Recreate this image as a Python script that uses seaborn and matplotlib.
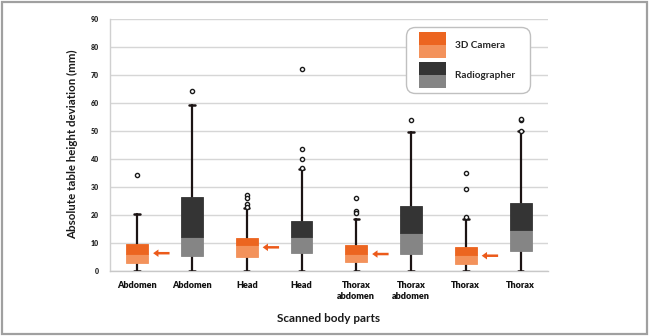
import numpy as np
import pandas as pd
import matplotlib
matplotlib.use("Agg")
import matplotlib.pyplot as plt
from matplotlib.patches import Rectangle, Patch
from matplotlib.legend_handler import HandlerBase
import seaborn as sns

# ---------------- data ----------------
labels = ["Abdomen", "Abdomen", "Head", "Head", "Thorax\nabdomen", "Thorax\nabdomen", "Thorax", "Thorax"]
groups = ["3D Camera", "Radiographer"] * 4
q1 = [2.8, 5.4, 5.0, 6.2, 3.2, 5.9, 2.3, 7.1]
med = [6.0, 12.0, 9.4, 12.0, 6.0, 13.4, 5.6, 14.6]
q3 = [9.6, 26.5, 11.6, 17.9, 9.2, 23.2, 8.4, 24.1]
whislo = [0, 0, 0, 0, 0, 0, 0, 0]
whishi = [20.3, 59.2, 22.3, 36.4, 18.5, 49.8, 18.5, 50.1]
fliers = [
    [34.2],
    [64.4],
    [27.1, 26.2, 23.8, 22.8],
    [36.6, 40.1, 43.6, 72.1],
    [26.1, 21.4, 20.5],
    [54.0],
    [19.1, 29.1, 35.1],
    [50.1, 53.8, 54.2],
]
arrow_y = [6.3, 8.4, 6.0, 5.4]  # arrows beside the 3D camera boxes

# ---------------- style ----------------
colors = {
    "3D Camera": ("#EC6520", "#F3925B"),      # (upper half, lower half)
    "Radiographer": ("#343434", "#858585"),
}
sns.set_style("white")
plt.rcParams["font.family"] = ["Lato", "DejaVu Sans"]

fig = plt.figure(figsize=(6.5, 3.36), dpi=100)
ax = fig.add_axes([0.169, 0.194, 0.674, 0.749])

pos = np.arange(len(labels))

# whiskers and caps
stats = [dict(med=m, q1=a, q3=b, whislo=lo, whishi=hi, fliers=[])
         for m, a, b, lo, hi in zip(med, q1, q3, whislo, whishi)]
ax.bxp(stats, positions=pos, widths=0.4, capwidths=0.1, showbox=False,
       showfliers=False, manage_ticks=False,
       medianprops=dict(linewidth=0),
       whiskerprops=dict(color="#1c1414", linewidth=1.6),
       capprops=dict(color="#1c1414", linewidth=1.8), zorder=3)

# two-tone boxes
upper_c = [colors[g][0] for g in groups]
lower_c = [colors[g][1] for g in groups]
ax.bar(pos, np.subtract(med, q1), bottom=q1, width=0.4, color=lower_c,
       edgecolor=lower_c, linewidth=0.6, zorder=4)
ax.bar(pos, np.subtract(q3, med), bottom=med, width=0.4, color=upper_c,
       edgecolor=upper_c, linewidth=0.6, zorder=4)

# outliers
fl_df = pd.DataFrame([(p, v) for p, vals in zip(pos, fliers) for v in vals],
                     columns=["pos", "value"])
sns.scatterplot(data=fl_df, x="pos", y="value", ax=ax, marker="o", s=9,
                facecolor="white", edgecolor="#1a1a1a", linewidth=1.0, zorder=5)

# arrows next to camera boxes
cam_pos = [p for p, g in zip(pos, groups) if g == "3D Camera"]
for p, yv in zip(cam_pos, arrow_y):
    ax.annotate("", xy=(p + 0.29, yv), xytext=(p + 0.59, yv),
                arrowprops=dict(arrowstyle="simple,head_length=0.32,head_width=0.45,tail_width=0.15",
                                color="#EC5A1A", lw=0, mutation_scale=12,
                                shrinkA=0, shrinkB=0), zorder=6)

# axes
ax.set_xlim(-0.5, 7.5)
ax.set_ylim(0, 90)
ax.set_yticks(np.arange(0, 91, 10))
ax.set_xticks(pos)
ax.set_xticklabels(labels, fontsize=6.5, fontweight="heavy", color="#111111", linespacing=1.3)
ax.tick_params(axis="x", length=0, pad=7)
ax.tick_params(axis="y", length=4, color="#d0d0d0", labelsize=5, pad=4, labelcolor="#222222")
for t in ax.get_yticklabels():
    t.set_fontweight("heavy")
ax.yaxis.grid(True, color="#d6d6d6", linewidth=1.0, zorder=0)
ax.set_axisbelow(True)
for s in ["top", "right"]:
    ax.spines[s].set_visible(False)
ax.spines["left"].set_color("#d0d0d0")
ax.spines["bottom"].set_color("#c8c8c8")
ax.spines["left"].set_linewidth(1.0)
ax.spines["bottom"].set_linewidth(1.0)
ax.set_xlabel("")
ax.set_ylabel("")

fig.text(0.112, 0.57, "Absolute table height deviation (mm)", rotation=90,
         ha="center", va="center", fontsize=8.3, fontweight="bold", color="#1a1a1a")
fig.text(0.506, 0.052, "Scanned body parts", ha="center", va="center",
         fontsize=8.5, fontweight="bold", color="#1a1a1a")


# legend with two-tone handles
class TwoTone(HandlerBase):
    def __init__(self, top, bottom, offset_frac=0.23):
        super().__init__()
        self.top = top
        self.bottom = bottom
        self.offset_frac = offset_frac

    def create_artists(self, legend, orig_handle, xdescent, ydescent, width,
                       height, fontsize, trans):
        off = width * self.offset_frac
        w = width - off
        r1 = Rectangle((-xdescent + off, -ydescent), w, height / 2,
                       facecolor=self.bottom, edgecolor="none", transform=trans)
        r2 = Rectangle((-xdescent + off, -ydescent + height / 2), w, height / 2,
                       facecolor=self.top, edgecolor="none", transform=trans)
        return [r1, r2]


h_cam = Patch(label="3D Camera")
h_rad = Patch(label="Radiographer    ")
leg = ax.legend(handles=[h_cam, h_rad],
                handler_map={h_cam: TwoTone(*colors["3D Camera"]),
                             h_rad: TwoTone(*colors["Radiographer"])},
                loc="upper left", bbox_to_anchor=(0.682, 0.960), borderaxespad=0,
                prop=dict(family=["Lato", "DejaVu Sans"], weight="bold", size=7.2),
                handlelength=3.4, handleheight=3.55, labelspacing=0.45,
                handletextpad=0.9, borderpad=0.3, frameon=True, fancybox=True,
                framealpha=1, edgecolor="#c0c0c0")
leg.get_frame().set_linewidth(1.0)
leg.get_frame().set_boxstyle("round,pad=0.27,rounding_size=0.9")

# figure border
fig.patches.append(Rectangle((0.003, 0.005), 0.992, 0.99, transform=fig.transFigure,
                             fill=False, edgecolor="#a0a0a0", linewidth=1.6))

fig.savefig("out.png", dpi=100)
